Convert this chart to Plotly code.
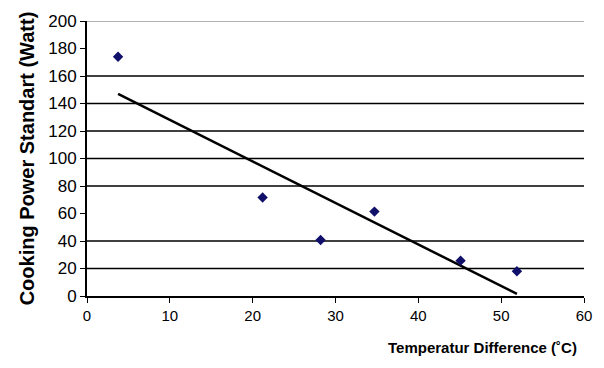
import numpy as np
import plotly.graph_objects as go

# Data
temp_diff = [3.75, 21.2, 28.2, 34.7, 45.1, 51.9]
cooking_power = [174, 71.6, 40.7, 61.4, 25.7, 18.0]

x_ticks = [0, 10, 20, 30, 40, 50, 60]
y_ticks = [0, 20, 40, 60, 80, 100, 120, 140, 160, 180, 200]
grid_values = [20, 40, 80, 100, 120, 140, 160]

# Linear trendline (least squares) over the data range
slope, intercept = np.polyfit(temp_diff, cooking_power, 1)
trend_x = [min(temp_diff), max(temp_diff)]
trend_y = [slope * v + intercept for v in trend_x]

fig = go.Figure()

fig.add_trace(go.Scatter(
    x=trend_x, y=trend_y, mode="lines",
    line=dict(color="black", width=2.5), hoverinfo="skip", showlegend=False,
))
fig.add_trace(go.Scatter(
    x=temp_diff, y=cooking_power, mode="markers",
    marker=dict(symbol="diamond", size=8, color="#10106a"), showlegend=False,
))

shapes = []
for g in grid_values:
    shapes.append(dict(type="line", xref="paper", x0=0, x1=1, yref="y", y0=g, y1=g,
                       line=dict(color="black", width=1.5), layer="below"))
shapes.append(dict(type="line", xref="paper", x0=0, x1=1, yref="y", y0=200, y1=200,
                   line=dict(color="#9a9a9a", width=1.5), layer="below"))

fig.update_layout(
    width=604, height=368,
    margin=dict(l=87, r=19, t=16, b=72),
    paper_bgcolor="white", plot_bgcolor="white",
    font=dict(family="Liberation Sans, Arial, sans-serif", color="black"),
    shapes=shapes,
    xaxis=dict(
        range=[0, 60], tickvals=x_ticks, ticktext=[str(v) for v in x_ticks],
        showgrid=False, zeroline=False,
        showline=True, linecolor="black", linewidth=2,
        ticks="outside", ticklen=5, tickcolor="black", tickwidth=1,
        tickfont=dict(size=15, family="Liberation Sans Narrow, Liberation Sans, Arial"),
    ),
    yaxis=dict(
        range=[0, 200], tickvals=y_ticks, ticktext=[str(v) for v in y_ticks],
        showgrid=False, zeroline=False,
        showline=True, linecolor="black", linewidth=2,
        ticks="outside", ticklen=5, tickcolor="black", tickwidth=1,
        tickfont=dict(size=17, family="Liberation Sans Narrow, Liberation Sans, Arial"),
        title=dict(text="<b>Cooking Power Standart (Watt)</b>",
                   font=dict(size=20, family="Liberation Sans, Arial"), standoff=8),
    ),
    annotations=[dict(
        text="<b>Temperatur Difference (˚C)</b>", xref="paper", yref="paper",
        x=0.99, y=-0.15, xanchor="right", yanchor="top", showarrow=False,
        font=dict(size=15, family="Liberation Sans Narrow, Liberation Sans, Arial"),
    )],
)

fig.write_html("out.html")
